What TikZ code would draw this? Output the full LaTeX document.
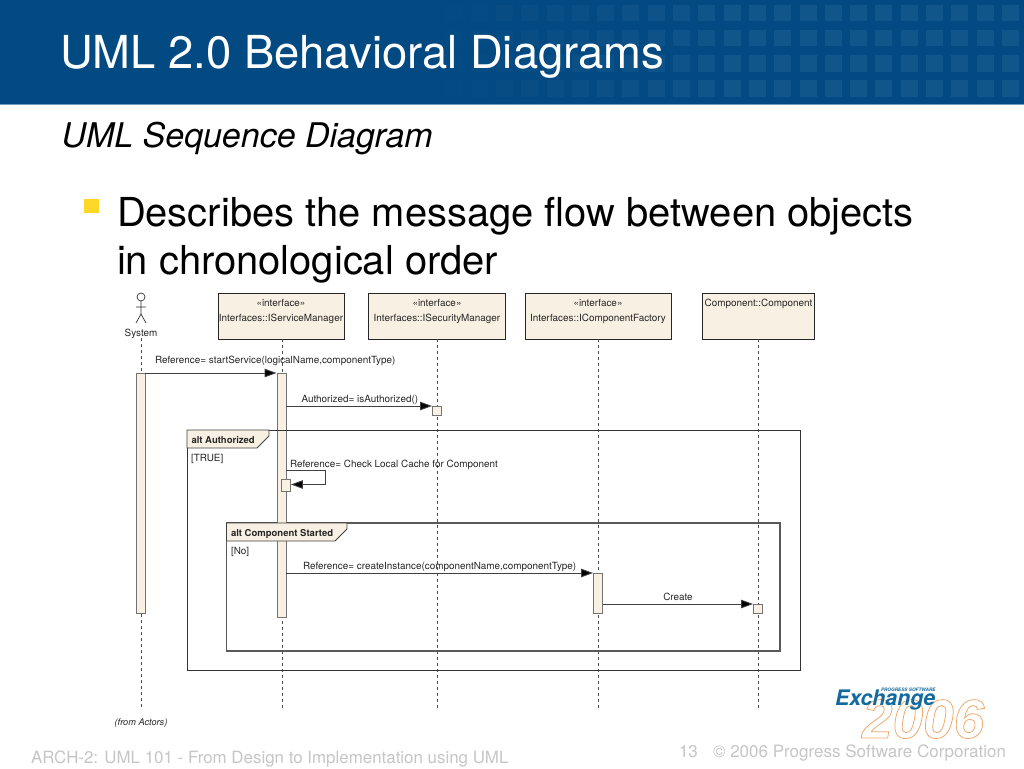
\documentclass[tikz,border=0pt]{standalone}
\usepackage{fontspec}
\setmainfont{TeX Gyre Heros}
\newfontfamily\logofont[FakeBold=1.4]{Liberation Sans Bold Italic}
\usetikzlibrary{arrows.meta}
\definecolor{hdr}{HTML}{034A82}
\definecolor{hdrl}{HTML}{10568B}
\definecolor{cream}{HTML}{F8F0E2}
\definecolor{frameline}{HTML}{333333}
\definecolor{foot}{HTML}{C6C6C6}
\definecolor{logoblue}{HTML}{136A9F}
\tikzset{
  x=1pt,y=-1pt,
  txt/.style={inner sep=0pt,outer sep=0pt,anchor=base west},
  dia/.style={txt,font=\fontsize{9.9}{11}\selectfont,text=black!85},
  diac/.style={dia,anchor=base},
  diab/.style={dia,font=\bfseries\fontsize{9.5}{11}\selectfont},
  box/.style={draw=black!85,fill=cream,line width=.9pt,inner sep=0pt},
  life/.style={draw=black!70,line width=.9pt,dash pattern=on 3pt off 3pt},
  bar/.style={draw=black!55,fill=cream,line width=.9pt,inner sep=0pt},
  msg/.style={draw=black!75,line width=.9pt,-{Triangle[length=12pt,width=8.5pt,fill=black]}},
  frameb/.style={draw=frameline,line width=1pt},
  framei/.style={draw=black!65,line width=1.3pt},
  tab/.style={draw=black!75,fill=cream,line width=.8pt}
}
\begin{document}
\begin{tikzpicture}
\useasboundingbox (0,0) rectangle (1024,768);
\fill[white] (0,0) rectangle (1024,768);
% header
\fill[hdr] (0,0) rectangle (1024,103.5);
\fill[hdr!55!white] (0,103.5) rectangle (1024,105);
\foreach \r in {0,1,2,3}{\foreach \c in {-11,...,12}{
  \pgfmathsetmacro{\op}{min(1,max(0,(698.3+\c*25.3-400)/300))}
  \fill[hdrl,opacity=\op] ({698.3+\c*25.3},{5+\r*25}) rectangle +(17,16.5);}}
\node[txt,text=white,font=\fontsize{45.4}{48}\selectfont] (title) at (60,68) {UML 2.0 Behavioral Diagrams};
\node[txt,font=\itshape\fontsize{34}{36}\selectfont] (sub) at (61.5,147) {UML Sequence Diagram};
\fill[yellow!70!orange!85!white] (84,199) rectangle (99,213);
\node[txt,font=\fontsize{39.9}{44}\selectfont] (l1) at (117,226) {Describes the message flow between objects};
\node[txt,font=\fontsize{39.9}{44}\selectfont] (l2) at (117,274) {in chronological order};
% lifelines
\coordinate (sysTop) at (141,338); \coordinate (sysEnd) at (141,708);
\coordinate (svcEnd) at (282,708);
\coordinate (secEnd) at (437,708);
\coordinate (facEnd) at (598,708);
\coordinate (cmpEnd) at (758,708);
% boxes
\node[box,minimum width=126pt,minimum height=46pt] (svc) at (281,316) {};
\node[box,minimum width=137pt,minimum height=46pt] (sec) at (436.5,316) {};
\node[box,minimum width=146pt,minimum height=46pt] (fac) at (598,316) {};
\node[box,minimum width=112pt,minimum height=46pt] (cmp) at (758,316) {};
\draw[life] (sysTop) -- (sysEnd);
\draw[life] (svc.south -| svcEnd) -- (svcEnd);
\draw[life] (sec.south -| secEnd) -- (secEnd);
\draw[life] (fac.south -| facEnd) -- (facEnd);
\draw[life] (cmp.south -| cmpEnd) -- (cmpEnd);
% frames
\draw[frameb] (187,430) rectangle (800,670);
\draw[framei] (226.5,523) rectangle (780,651);
% activations
\node[bar,minimum width=9pt,minimum height=240pt] (aSys) at (140.5,493) {};
\node[bar,minimum width=9pt,minimum height=244pt] (aSvc) at (281.5,495) {};
\node[bar,minimum width=9pt,minimum height=9pt] (aSec) at (437,410.5) {};
\node[bar,minimum width=9pt,minimum height=12pt] (aSelf) at (286,485) {};
\node[bar,minimum width=9pt,minimum height=40pt] (aFac) at (598,593) {};
\node[bar,minimum width=9pt,minimum height=9pt] (aCmp) at (758,608.5) {};
% frame top over bars
\draw[frameb] (187,430) -- (800,430);
% tabs
\path[tab] (187,430) -- (269,430) -- (269,436) -- (257,448) -- (187,448) -- cycle;
\path[tab] (226.5,523) -- (347,523) -- (347,529) -- (335,541) -- (226.5,541) -- cycle;
\node[diab] (t1) at (191.5,443) {alt Authorized};
\node[diab] (t2) at (231,536) {alt Component Started};
\node[dia] (g1) at (191,461.5) {[TRUE]};
\node[dia] (g2) at (231,554.5) {[No]};
% actor
\draw[black!80,line width=.7pt] (141,297) circle (4);
\coordinate (neck) at (141,301); \coordinate (hip) at (141,314);
\draw[black!80,line width=.7pt] (neck) -- (hip) (136,307) -- (146,307) (136,323) -- (hip) -- (146,323);
\node[diac] (sys) at (141,336) {System};
% box labels
\node[diac] (s1) at (281,306) {«interface»};
\node[diac] (s2) at (281,321) {Interfaces::IServiceManager};
\node[diac] (s3) at (437,306) {«interface»};
\node[diac] (s4) at (437,321) {Interfaces::ISecurityManager};
\node[diac] (s5) at (598,306) {«interface»};
\node[diac] (s6) at (598,321) {Interfaces::IComponentFactory};
\node[diac] (s7) at (758.5,306) {Component::Component};
% messages
\draw[msg] (aSys.east |- 0,373) -- (aSvc.west |- 0,373);
\draw[msg] (aSvc.east |- 0,406) -- (aSec.west |- 0,406);
\draw[msg] (aSvc.east |- 0,470) -- (325,470) -- (325,484.5) -- (aSelf.east |- 0,484.5);
\draw[msg] (aSvc.east |- 0,573) -- (aFac.west |- 0,573);
\draw[msg] (aFac.east |- 0,604) -- (aCmp.west |- 0,604);
\node[dia] (m1) at (155,363) {Reference= startService(logicalName,componentType)};
\node[dia] (m2) at (301.5,402.5) {Authorized= isAuthorized()};
\node[dia] (m3) at (290,467) {Reference= Check Local Cache for Component};
\node[dia] (m4) at (303,569.5) {Reference= createInstance(componentName,componentType)};
\node[diac] (m5) at (678,600.5) {Create};
\node[diac,font=\itshape\fontsize{9.2}{10}\selectfont] (act) at (141,725) {(from Actors)};
% footer
\node[txt,text=foot,font=\fontsize{16.9}{18}\selectfont] (f1) at (31,763) {ARCH-2: UML 101 - From Design to Implementation using UML};
\node[txt,text=foot,font=\fontsize{17}{18}\selectfont] (f2) at (679,757) {13};
\node[txt,text=foot,font=\fontsize{17}{18}\selectfont] (f3) at (713,757) {© 2006 Progress Software Corporation};
% logo
\node[txt,font=\logofont\fontsize{55}{58}\selectfont] (y) at (862,738) {\special{pdf:bcolor [1 1 1] [0.93 0.66 0.42]}2006\special{pdf:ecolor}};
\node[txt,text=logoblue,font=\bfseries\itshape\fontsize{21.4}{24}\selectfont] (ex) at (835,705.5) {Exchange};
\node[txt,text=logoblue,font=\bfseries\itshape\fontsize{4.7}{6}\selectfont] (ps) at (881,691) {PROGRESS SOFTWARE};
\end{tikzpicture}
\end{document}
